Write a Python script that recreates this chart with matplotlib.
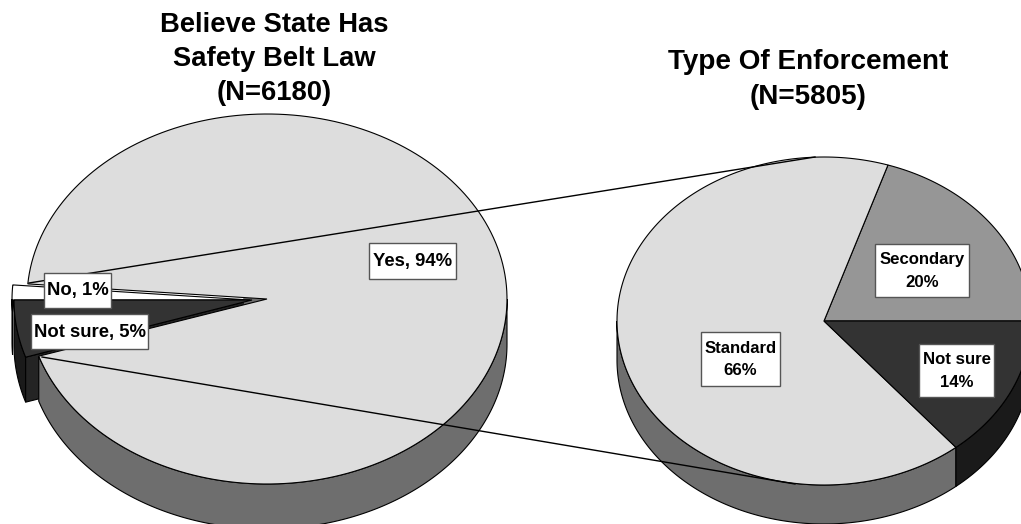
import numpy as np
import matplotlib
matplotlib.use("Agg")
import matplotlib.pyplot as plt
from matplotlib.patches import Polygon, Rectangle

plt.rcParams["font.family"] = ["Liberation Sans", "DejaVu Sans"]

# left pie
left_names = ["Yes", "No", "Not sure"]
left_values = [93.7, 1.3, 5.0]
# right pie
right_names = ["Secondary", "Standard", "Not sure"]
right_values = [20, 66, 14]

left_title = "Believe State Has\nSafety Belt Law\n(N=6180)"
right_title = "Type Of Enforcement\n(N=5805)"

LIGHT, LIGHT_RIM = "#dddddd", "#6e6e6e"
MID, MID_RIM = "#969696", "#5a5a5a"
DARK, DARK_RIM = "#333333", "#1a1a1a"

fig = plt.figure(figsize=(10.21, 5.24), dpi=100)
ax = fig.add_axes([0, 0, 1, 1])
ax.set_xlim(0, 1021)
ax.set_ylim(524, 0)
ax.axis("off")


def ell(cx, cy, rx, ry, a0, a1):
    t = np.radians(np.linspace(a0, a1, 200))
    return np.column_stack((cx + rx * np.cos(t), cy - ry * np.sin(t)))


def top(cx, cy, rx, ry, a0, a1, color, zorder):
    pts = np.vstack(([[cx, cy]], ell(cx, cy, rx, ry, a0, a1)))
    ax.add_patch(Polygon(pts, closed=True, fc=color, ec="black", lw=0.8, zorder=zorder))


def rim(cx, cy, rx, ry, depth, a0, a1, color, zorder):
    # only the front half of a slice has a visible side
    a0, a1 = max(a0, 180), min(a1, 360)
    if a1 <= a0:
        return
    upper = ell(cx, cy, rx, ry, a0, a1)
    lower = upper[::-1] + [0, depth]
    ax.add_patch(Polygon(np.vstack((upper, lower)), closed=True, fc=color, ec="black", lw=0.8, zorder=zorder))


def label(x0, x1, y0, y1, text, size=13.3):
    ax.add_patch(Rectangle((x0, y0), x1 - x0, y1 - y0, fc="white", ec="#555555", lw=1.0, zorder=20))
    ax.text((x0 + x1) / 2, (y0 + y1) / 2 + 0.5, text, ha="center", va="center", fontsize=size,
            fontweight="bold", color="black", linespacing=1.6, zorder=21)


# left pie, small slices pulled out to the left
deg = [v * 3.6 for v in left_values]
no_a0, no_a1 = 180 - deg[1], 180
ns_a0, ns_a1 = 180, 180 + deg[2]
yes_a0, yes_a1 = ns_a1, no_a0 + 360

LX, LY, LRX, LRY, LD = 267, 299, 240, 185, 45
NX, NRX = 252, 238

# sides
rim(NX - 2, LY, NRX, LRY, LD - 2, ns_a0, ns_a0 + 4, LIGHT_RIM, 1)
rim(NX, LY + 1, NRX, LRY, LD, ns_a0, ns_a1, DARK_RIM, 2)
end = ell(NX, LY + 1, NRX, LRY, ns_a1, ns_a1)[0]
ax.add_patch(Polygon([end, end + [0, LD], [NX, LY + 1 + LD], [NX, LY + 1]], closed=True,
                     fc="#242424", ec="black", lw=0.8, zorder=3))
rim(LX, LY, LRX, LRY, LD, yes_a0, yes_a1, LIGHT_RIM, 4)

# grey cut face seen at the tip of the notch
apex = np.array([LX, LY])
notch_a = ell(LX, LY, LRX, LRY, no_a0, no_a0)[0]
notch_b = ell(LX, LY, LRX, LRY, ns_a1, ns_a1)[0]
ax.add_patch(Polygon([apex, apex + 0.1 * (notch_a - apex), apex + 0.1 * (notch_b - apex)], closed=True,
                     fc=LIGHT_RIM, ec="none", zorder=4.5))

top(LX, LY, LRX, LRY, yes_a0, yes_a1, LIGHT, 5)
top(NX - 2, LY + 1, NRX, LRY, no_a0, no_a1, "white", 6)
top(NX, LY + 1, NRX, LRY, ns_a0, ns_a1, DARK, 6)

# right pie
RX, RY, RRX, RRY, RD = 824, 321, 207, 164, 39
fills = [(MID, MID_RIM), (LIGHT, LIGHT_RIM), (DARK, DARK_RIM)]
a = 0
for v, (c, c_rim) in zip(right_values, fills):
    b = a + v * 3.6
    rim(RX, RY, RRX, RRY, RD, a, b, c_rim, 7)
    a = b
a = 0
for v, (c, c_rim) in zip(right_values, fills):
    b = a + v * 3.6
    top(RX, RY, RRX, RRY, a, b, c, 8)
    a = b

# leader lines between the pies
ax.plot([29, 815], [283, 157], color="black", lw=1.0, zorder=10)
ax.plot([42, 795], [357, 484], color="black", lw=1.0, zorder=10)

# labels
label(369, 456, 243, 279, f"{left_names[0]}, {left_values[0]:.0f}%")
label(44, 111, 273, 308, f"{left_names[1]}, {left_values[1]:.0f}%")
label(31, 148, 314, 349, f"{left_names[2]}, {left_values[2]:.0f}%")
label(875, 969, 244, 297, f"{right_names[0]}\n{right_values[0]}%", 12.1)
label(701, 780, 332, 386, f"{right_names[1]}\n{right_values[1]}%", 12.1)
label(919, 994, 344, 397, f"{right_names[2]}\n{right_values[2]}%", 12.1)

ax.text(274, 59, left_title, ha="center", va="center", fontsize=19.7, fontweight="bold", linespacing=1.38)
ax.text(808.5, 79.5, right_title, ha="center", va="center", fontsize=20.1, fontweight="bold", linespacing=1.42)

fig.savefig("out.png", dpi=100)
